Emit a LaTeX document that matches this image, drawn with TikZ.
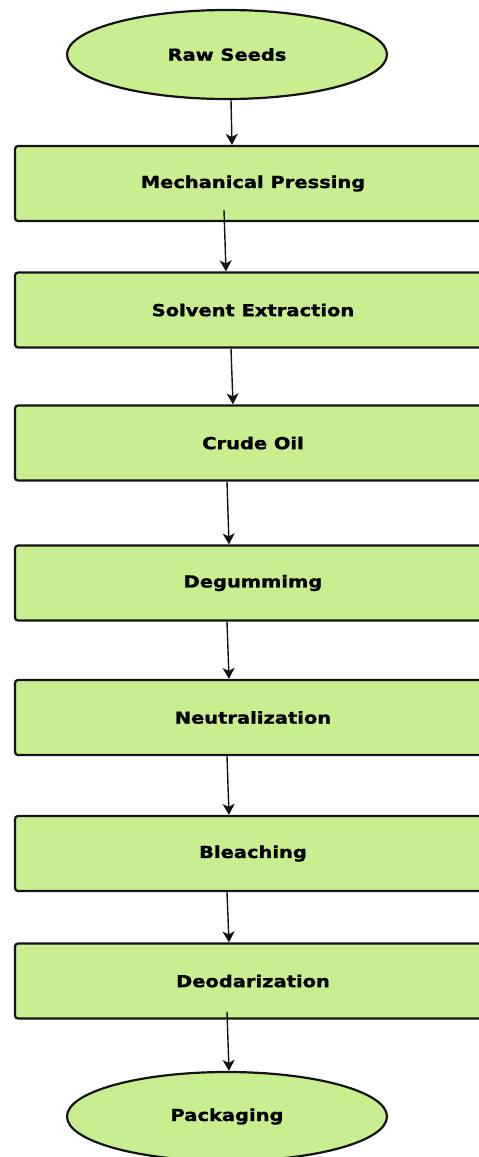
\documentclass[tikz,border=0pt]{standalone}
\usepackage{fontspec}
\newfontfamily\lblfont[FakeStretch=1.18,FakeBold=1.2]{DejaVu Sans}
\usetikzlibrary{arrows.meta,shapes.geometric}
\definecolor{boxfill}{RGB}{200,238,144}
\definecolor{edge}{RGB}{20,20,20}
\begin{document}
\begin{tikzpicture}[x=1pt,y=-1pt,
  stepbox/.style={draw=edge,line width=2.2pt,fill=boxfill,rounded corners=3pt,
    minimum width=476pt,minimum height=75pt,inner sep=0pt,
    font=\lblfont\bfseries\fontsize{16.5}{18}\selectfont},
  term/.style={draw=edge,line width=2.2pt,fill=boxfill,ellipse,
    minimum width=320pt,minimum height=89pt,inner sep=0pt,
    font=\lblfont\bfseries\fontsize{16.5}{18}\selectfont},
  arr/.style={draw=edge,line width=1.4pt,-{Stealth[length=11pt,width=12pt,inset=3pt]}}]
\useasboundingbox (0,0) rectangle (479,1157);
\clip (0,0) rectangle (479,1157);
\node[term] (raw) at (227,54.5) {Raw Seeds};
\node[stepbox] (mech) at (253,183.5) {Mechanical Pressing};
\node[stepbox] (solv) at (253,310) {Solvent Extraction};
\node[stepbox] (crude) at (253,443) {Crude Oil};
\node[stepbox] (degum) at (253,583) {Degummimg};
\node[stepbox] (neut) at (253,717.5) {Neutralization};
\node[stepbox] (bleach) at (253,853.5) {Bleaching};
\node[stepbox] (deodar) at (253,981) {Deodarization};
\node[term] (pack) at (227,1116.5) {Packaging};
\draw[arr] ([xshift=4pt]raw.south) -- ([xshift=-21pt]mech.north);
\draw[arr] ([shift={(-29,-12)}]mech.south) -- ([xshift=-27pt]solv.north);
\draw[arr] ([xshift=-22pt]solv.south) -- ([xshift=-20pt]crude.north);
\draw[arr] ([xshift=-26pt]crude.south) -- ([xshift=-24pt]degum.north);
\draw[arr] ([xshift=-26pt]degum.south) -- ([xshift=-24pt]neut.north);
\draw[arr] ([xshift=-26pt]neut.south) -- ([xshift=-24pt]bleach.north);
\draw[arr] ([xshift=-26pt]bleach.south) -- ([xshift=-24pt]deodar.north);
\draw[arr] ([shift={(-26,-8)}]deodar.south) -- ([xshift=2pt]pack.north);
\end{tikzpicture}
\end{document}
